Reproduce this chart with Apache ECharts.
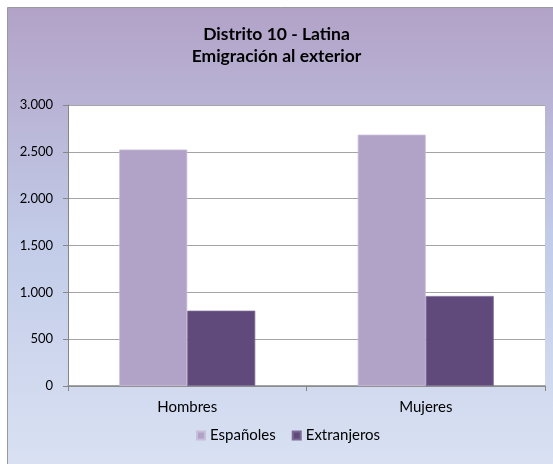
<!DOCTYPE html>
<html>
<head>
<meta charset="utf-8">
<script src="https://cdn.jsdelivr.net/npm/echarts@6/dist/echarts.min.js"></script>
<style>html,body{margin:0;padding:0;background:#fff}#c{width:553px;height:464px}</style>
</head>
<body>
<div id="c"></div>
<script>
var titleLines = ['Distrito 10 - Latina', 'Emigración al exterior'];
var categories = ['Hombres', 'Mujeres'];
var seriesNames = ['Españoles', 'Extranjeros'];
var espanoles = [2525, 2683];
var extranjeros = [804, 961];
var yTicks = [0, 500, 1000, 1500, 2000, 2500, 3000];

var chart = echarts.init(document.getElementById('c'));
function fmt(v){ return String(v).replace(/\B(?=(\d{3})+(?!\d))/g, '.'); }
chart.setOption({
  animation: false,
  graphic: [{
    type: 'rect', z: -10, silent: true,
    shape: {x: 7.5, y: 7.5, width: 560, height: 470},
    style: {
      fill: new echarts.graphic.LinearGradient(0, 0, 0, 1, [
        {offset: 0, color: '#B2A2C7'},
        {offset: 0.5, color: '#C2CCE8'},
        {offset: 1, color: '#DAE2F3'}
      ]),
      stroke: '#9A9A9A', lineWidth: 1
    }
  }],
  title: {
    text: titleLines.join('\n'),
    left: 'center', top: 18,
    textStyle: {fontFamily: 'Lato', fontWeight: 'bold', fontSize: 17.5, color: '#000', lineHeight: 22}
  },
  legend: {
    data: seriesNames,
    bottom: 16, left: 191,
    itemWidth: 8, itemHeight: 8, itemGap: 16, icon: 'rect',
    textStyle: {fontFamily: 'Lato', fontSize: 15, color: '#000'}
  },
  grid: {left: 68, right: 8, top: 105, bottom: 78, show: true, backgroundColor: '#fff', borderWidth: 0},
  xAxis: {
    type: 'category', data: categories,
    axisLine: {lineStyle: {color: '#868686', width: 1.5}},
    axisTick: {show: true, length: 5, lineStyle: {color: '#868686'}},
    axisLabel: {fontFamily: 'Lato', fontSize: 15, color: '#000', margin: 14}
  },
  yAxis: {
    type: 'value', min: 0, max: 3000, interval: 500,
    axisLine: {show: true, lineStyle: {color: '#868686'}},
    axisTick: {show: true, length: 5, lineStyle: {color: '#868686'}},
    splitLine: {lineStyle: {color: '#A3A3A3', width: 1.2}},
    axisLabel: {fontFamily: 'Lato', fontSize: 13, color: '#000', margin: 15,
      formatter: function(v){ return yTicks.indexOf(v) >= 0 ? fmt(v) : ''; }}
  },
  series: [
    {name: seriesNames[0], type: 'bar', data: espanoles, barWidth: 68, barGap: '0%',
     itemStyle: {color: '#B1A2C7', borderColor: '#C9BDDA', borderWidth: 0.8}},
    {name: seriesNames[1], type: 'bar', data: extranjeros, barWidth: 68, barGap: '0%',
     itemStyle: {color: '#604A7B', borderColor: '#7D6A94', borderWidth: 0.8}}
  ]
});
</script>
</body>
</html>
